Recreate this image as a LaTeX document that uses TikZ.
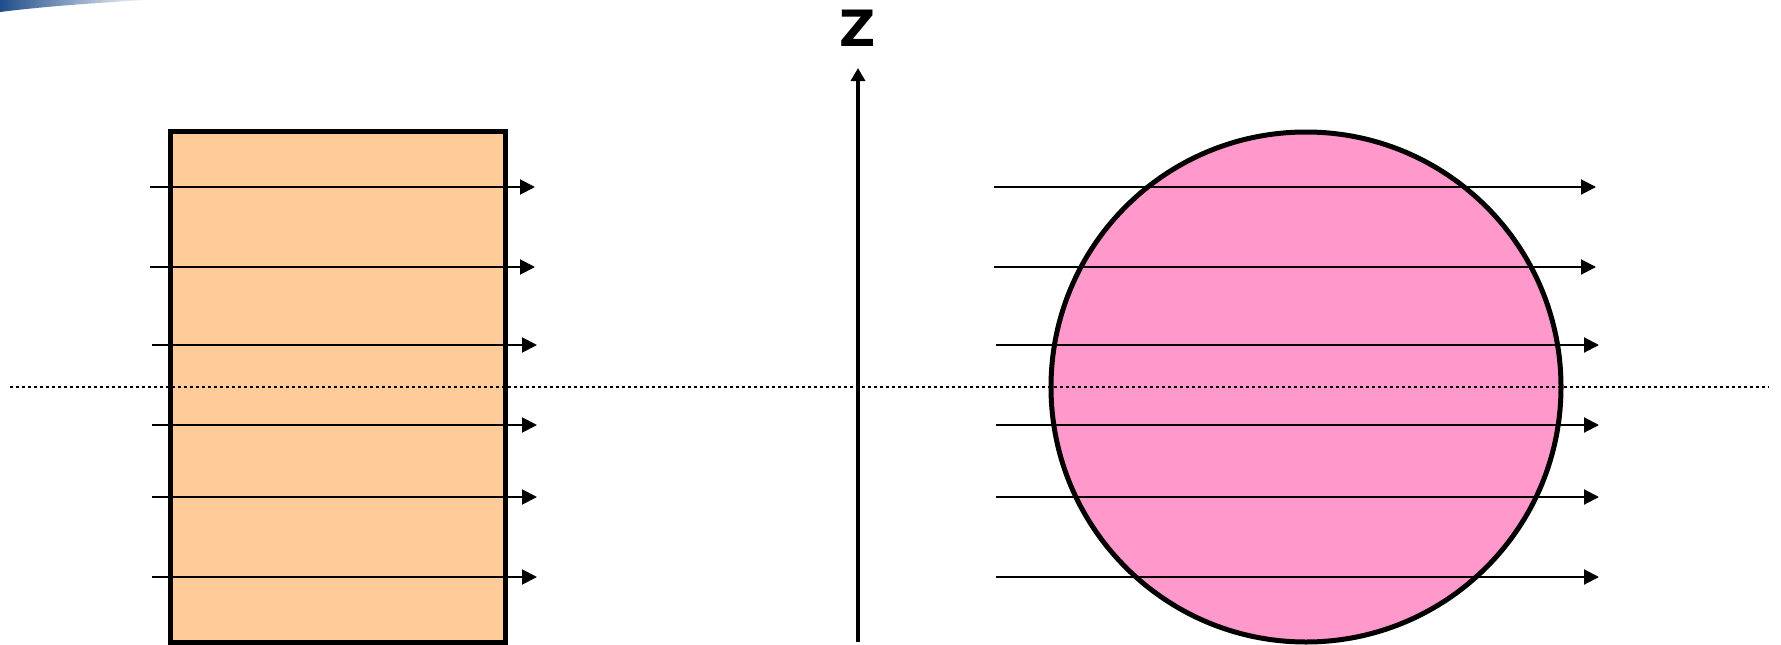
\documentclass[tikz,border=0pt]{standalone}
\usepackage{fontspec}
\newfontfamily\zfont{DejaVu Sans}
\usetikzlibrary{arrows.meta}
\definecolor{peach}{HTML}{FFCC99}
\definecolor{pinkfill}{HTML}{FF99CC}
\definecolor{swoosh}{HTML}{1F4E8C}
\tikzset{
  ray/.style={line width=2pt, -{Triangle[length=15pt,width=15pt]}},
  body/.style={draw=black, line width=5pt, inner sep=0pt, outer sep=0pt},
  axisline/.style={line width=4.5pt, -{Triangle[length=13pt,width=14pt]}},
  midline/.style={line width=2.5pt, dash pattern=on 2.5pt off 3.5pt},
}
\begin{document}
\begin{tikzpicture}[x=1pt,y=-1pt]
\useasboundingbox (0,0) rectangle (1781,645);
% top-left swoosh
\shade[left color=swoosh, right color=white, shading angle=90]
  (0,0) -- (150,0) .. controls (90,3) and (40,7) .. (0,12) -- cycle;
% bodies
\node[body, fill=peach, rectangle, minimum width=335pt, minimum height=511pt] (slab) at (337.5,386.5) {};
\node[body, fill=pinkfill, circle, minimum size=510pt] (sphere) at (1306,387) {};
% dotted mid-plane
\coordinate (mL) at (10,387);
\coordinate (mR) at (1769,387);
\draw[midline] (mL) -- (mR);
% z axis
\coordinate (zb) at (858,642);
\coordinate (zt) at (858,68);
\draw[axisline] (zb) -- (zt);
\node[font=\zfont\bfseries\fontsize{50}{50}\selectfont, inner sep=0pt] (zlabel) at (858,28) {Z};
% rays left
\foreach \y/\a/\b [count=\i] in {187/150/535, 267/150/535, 345/152/537, 425/152/537, 497/152/537, 577/152/537}{
  \coordinate (ls\i) at (\a,\y);
  \coordinate (le\i) at (\b,\y);
  \draw[ray] (ls\i) -- (le\i);
}
% rays right
\foreach \y/\a/\b [count=\i] in {187/994/1596, 267/994/1596, 345/996/1599, 425/996/1599, 497/996/1599, 577/996/1599}{
  \coordinate (rs\i) at (\a,\y);
  \coordinate (re\i) at (\b,\y);
  \draw[ray] (rs\i) -- (re\i);
}
\end{tikzpicture}
\end{document}
